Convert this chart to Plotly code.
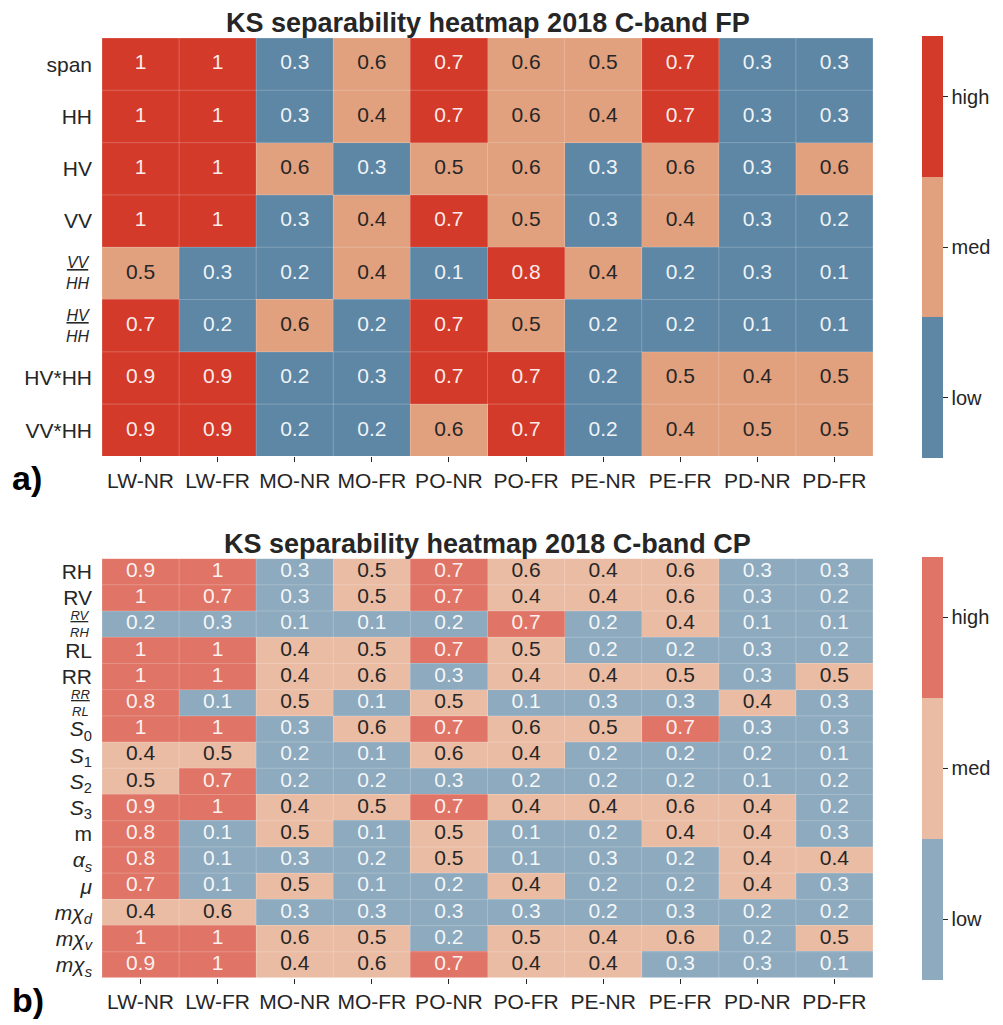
import plotly.graph_objects as go

# ---------------- data ----------------
columns = ["LW-NR", "LW-FR", "MO-NR", "MO-FR", "PO-NR", "PO-FR", "PE-NR", "PE-FR", "PD-NR", "PD-FR"]

fp_rows = ["span", "HH", "HV", "VV", "VV/HH", "HV/HH", "HV*HH", "VV*HH"]
fp_span = [1, 1, 0.3, 0.6, 0.7, 0.6, 0.5, 0.7, 0.3, 0.3]
fp_hh = [1, 1, 0.3, 0.4, 0.7, 0.6, 0.4, 0.7, 0.3, 0.3]
fp_hv = [1, 1, 0.6, 0.3, 0.5, 0.6, 0.3, 0.6, 0.3, 0.6]
fp_vv = [1, 1, 0.3, 0.4, 0.7, 0.5, 0.3, 0.4, 0.3, 0.2]
fp_vv_hh = [0.5, 0.3, 0.2, 0.4, 0.1, 0.8, 0.4, 0.2, 0.3, 0.1]
fp_hv_hh = [0.7, 0.2, 0.6, 0.2, 0.7, 0.5, 0.2, 0.2, 0.1, 0.1]
fp_hvxhh = [0.9, 0.9, 0.2, 0.3, 0.7, 0.7, 0.2, 0.5, 0.4, 0.5]
fp_vvxhh = [0.9, 0.9, 0.2, 0.2, 0.6, 0.7, 0.2, 0.4, 0.5, 0.5]
fp_values = [fp_span, fp_hh, fp_hv, fp_vv, fp_vv_hh, fp_hv_hh, fp_hvxhh, fp_vvxhh]
fp_labels = ["span", "HH", "HV", "VV", None, None, "HV*HH", "VV*HH"]
fp_fractions = {4: ("VV", "HH"), 5: ("HV", "HH")}

cp_rows = ["RH", "RV", "RV/RH", "RL", "RR", "RR/RL", "S0", "S1", "S2", "S3",
           "m", "alpha_s", "mu", "mchi_d", "mchi_v", "mchi_s"]
cp_rh = [0.9, 1, 0.3, 0.5, 0.7, 0.6, 0.4, 0.6, 0.3, 0.3]
cp_rv = [1, 0.7, 0.3, 0.5, 0.7, 0.4, 0.4, 0.6, 0.3, 0.2]
cp_rv_rh = [0.2, 0.3, 0.1, 0.1, 0.2, 0.7, 0.2, 0.4, 0.1, 0.1]
cp_rl = [1, 1, 0.4, 0.5, 0.7, 0.5, 0.2, 0.2, 0.3, 0.2]
cp_rr = [1, 1, 0.4, 0.6, 0.3, 0.4, 0.4, 0.5, 0.3, 0.5]
cp_rr_rl = [0.8, 0.1, 0.5, 0.1, 0.5, 0.1, 0.3, 0.3, 0.4, 0.3]
cp_s0 = [1, 1, 0.3, 0.6, 0.7, 0.6, 0.5, 0.7, 0.3, 0.3]
cp_s1 = [0.4, 0.5, 0.2, 0.1, 0.6, 0.4, 0.2, 0.2, 0.2, 0.1]
cp_s2 = [0.5, 0.7, 0.2, 0.2, 0.3, 0.2, 0.2, 0.2, 0.1, 0.2]
cp_s3 = [0.9, 1, 0.4, 0.5, 0.7, 0.4, 0.4, 0.6, 0.4, 0.2]
cp_m = [0.8, 0.1, 0.5, 0.1, 0.5, 0.1, 0.2, 0.4, 0.4, 0.3]
cp_alpha = [0.8, 0.1, 0.3, 0.2, 0.5, 0.1, 0.3, 0.2, 0.4, 0.4]
cp_mu = [0.7, 0.1, 0.5, 0.1, 0.2, 0.4, 0.2, 0.2, 0.4, 0.3]
cp_mchi_d = [0.4, 0.6, 0.3, 0.3, 0.3, 0.3, 0.2, 0.3, 0.2, 0.2]
cp_mchi_v = [1, 1, 0.6, 0.5, 0.2, 0.5, 0.4, 0.6, 0.2, 0.5]
cp_mchi_s = [0.9, 1, 0.4, 0.6, 0.7, 0.4, 0.4, 0.3, 0.3, 0.1]
cp_values = [cp_rh, cp_rv, cp_rv_rh, cp_rl, cp_rr, cp_rr_rl, cp_s0, cp_s1, cp_s2, cp_s3,
             cp_m, cp_alpha, cp_mu, cp_mchi_d, cp_mchi_v, cp_mchi_s]
cp_labels = ["RH", "RV", None, "RL", "RR", None,
             "<i>S</i><sub>0</sub>", "<i>S</i><sub>1</sub>", "<i>S</i><sub>2</sub>", "<i>S</i><sub>3</sub>",
             "m", "<i>α<sub>s</sub></i>", "<i>μ</i>",
             "<i>mχ<sub>d</sub></i>", "<i>mχ<sub>v</sub></i>", "<i>mχ<sub>s</sub></i>"]
cp_fractions = {2: ("RV", "RH"), 5: ("RR", "RL")}

level_names = ["low", "med", "high"]
thresholds = [0.35, 0.65]

# ---------------- styling ----------------
FONT = "Liberation Sans, Arial, Helvetica, sans-serif"
TXT = "#262626"
fp_colors = ["#5e87a6", "#e1a07e", "#d33a2a"]
cp_colors = ["#8eaabe", "#eabca4", "#e07466"]
FS = 21

W, H = 1003, 1025
ml, mt = 102, 38
mr = W - 879
mb = H - 986
pw = W - ml - mr
ph = H - mt - mb
top_dom = [(H - mb - 460) / ph, 1.0]
bot_dom = [0.0, (H - mb - 563) / ph]


def level(v):
    return sum(v > t for t in thresholds)


def fmt(v):
    return f"{v:g}"


def scale(cols):
    return [[0, cols[0]], [1 / 3, cols[0]], [1 / 3, cols[1]], [2 / 3, cols[1]],
            [2 / 3, cols[2]], [1, cols[2]]]


fig = go.Figure()


def add_block(values, colors, xaxis, yaxis, dom):
    n = len(values)
    z = [[level(v) for v in row] for row in values]
    fig.add_trace(go.Heatmap(
        z=z, x=list(range(len(columns))), y=list(range(n)),
        zmin=-0.5, zmax=2.5, colorscale=scale(colors),
        xaxis=xaxis, yaxis=yaxis, hoverinfo="skip",
        colorbar=dict(
            x=(928 - ml) / pw, xanchor="left", xpad=0,
            y=(dom[0] + dom[1]) / 2, yanchor="middle", ypad=0,
            lenmode="pixels", len=(dom[1] - dom[0]) * ph, thickness=21,
            outlinewidth=0, tickvals=[-0.07, 1, 2.07], ticktext=level_names,
            ticks="outside", ticklen=5, tickcolor=TXT, tickwidth=1,
            tickfont=dict(family=FONT, size=20, color=TXT),
        ),
    ))
    xs, ys, ts, cs = [], [], [], []
    for i, row in enumerate(values):
        for j, v in enumerate(row):
            xs.append(j)
            ys.append(i)
            ts.append(fmt(v))
            cs.append(TXT if level(v) == 1 else "rgba(255,255,255,0.92)")
    fig.add_trace(go.Scatter(
        x=xs, y=ys, text=ts, mode="text", xaxis=xaxis, yaxis=yaxis,
        textfont=dict(family=FONT, size=FS, color=cs), hoverinfo="skip", showlegend=False,
    ))
    for j in range(len(columns) + 1):
        fig.add_shape(type="line", xref=xaxis, yref=yaxis, x0=j - 0.5, x1=j - 0.5, y0=-0.5, y1=n - 0.5,
                      line=dict(color="rgba(255,255,255,0.22)", width=1), layer="above")
    for i in range(n + 1):
        fig.add_shape(type="line", xref=xaxis, yref=yaxis, x0=-0.5, x1=len(columns) - 0.5, y0=i - 0.5, y1=i - 0.5,
                      line=dict(color="rgba(255,255,255,0.22)", width=1), layer="above")


add_block(fp_values, fp_colors, "x", "y", top_dom)
add_block(cp_values, cp_colors, "x2", "y2", bot_dom)

xaxis_common = dict(
    tickvals=list(range(len(columns))), ticktext=columns, range=[-0.5, len(columns) - 0.5],
    showgrid=False, zeroline=False, showline=False, ticks="outside", ticklen=5,
    tickcolor=TXT, tickwidth=1, tickfont=dict(family=FONT, size=FS, color=TXT),
)


def yticks(labels):
    vals = [i for i, l in enumerate(labels) if l is not None]
    return vals, [labels[i] for i in vals]


fp_tv, fp_tt = yticks(fp_labels)
cp_tv, cp_tt = yticks(cp_labels)

fig.update_layout(
    width=W, height=H, margin=dict(l=ml, r=mr, t=mt, b=mb),
    paper_bgcolor="white", plot_bgcolor="white", showlegend=False,
    xaxis=dict(domain=[0, 1], anchor="y", **xaxis_common),
    xaxis2=dict(domain=[0, 1], anchor="y2", **xaxis_common),
    yaxis=dict(domain=top_dom, anchor="x", range=[len(fp_values) - 0.5, -0.5],
               tickvals=fp_tv, ticktext=fp_tt,
               showgrid=False, zeroline=False, ticks="", ticklabelstandoff=9,
               tickfont=dict(family=FONT, size=FS, color=TXT)),
    yaxis2=dict(domain=bot_dom, anchor="x2", range=[len(cp_values) - 0.5, -0.5],
                tickvals=cp_tv, ticktext=cp_tt,
                showgrid=False, zeroline=False, ticks="", ticklabelstandoff=9,
                tickfont=dict(family=FONT, size=FS, color=TXT)),
)

# fraction labels
for xd, yref, fr, size in (("x domain", "y", fp_fractions, 16), ("x2 domain", "y2", cp_fractions, 13)):
    for idx, (num, den) in fr.items():
        fig.add_annotation(
            xref=xd, x=0, xanchor="right", xshift=-11,
            yref=yref, y=idx, yanchor="middle", showarrow=False, borderpad=0,
            text=f"<u><i>{num}</i></u><br><i>{den}</i>",
            font=dict(family=FONT, size=size, color=TXT), align="center",
        )

# titles
for ydom, title in (("y domain", "KS separability heatmap 2018 C-band FP"),
                    ("y2 domain", "KS separability heatmap 2018 C-band CP")):
    fig.add_annotation(
        xref="paper", x=0.5, xanchor="center", yref=ydom, y=1, yanchor="bottom", yshift=-2,
        text=f"<b>{title}</b>", showarrow=False, font=dict(family=FONT, size=27, color=TXT),
    )

# panel letters
for ydom, letter in (("y domain", "a)"), ("y2 domain", "b)")):
    fig.add_annotation(
        xref="paper", x=(9 - ml) / pw, xanchor="left", yref=ydom, y=0,
        yanchor="middle", yshift=-22, text=f"<b>{letter}</b>", showarrow=False,
        font=dict(family=FONT, size=34, color="black"),
    )

fig.write_html(
    "out.html",
    config={"displayModeBar": False},
    post_script="document.body.style.margin='0';document.body.style.overflow='hidden';",
)
